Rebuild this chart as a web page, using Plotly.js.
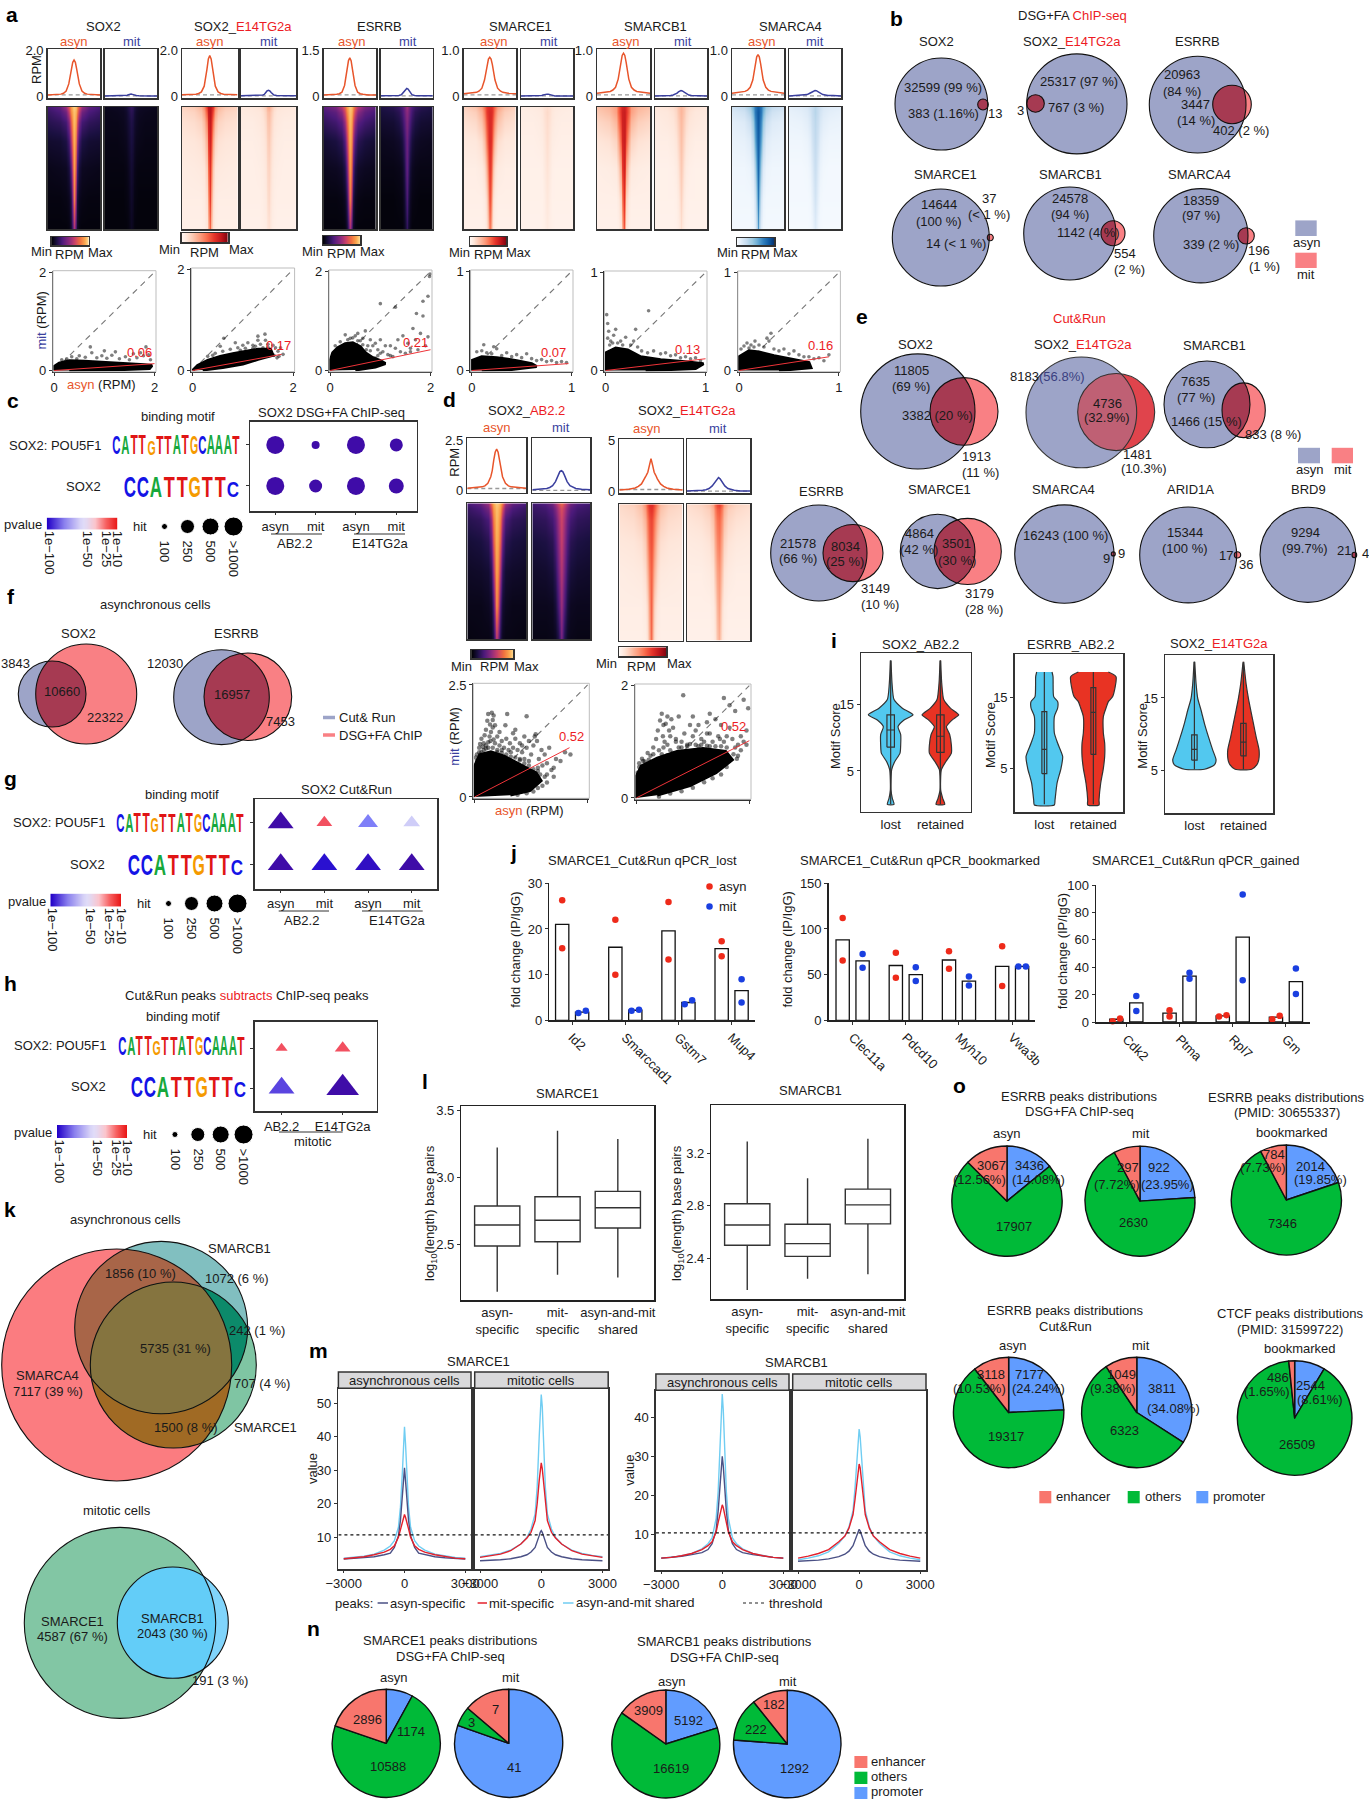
<!DOCTYPE html>
<html><head><meta charset="utf-8">
<script src="https://cdn.plot.ly/plotly-3.0.1.min.js"></script>
<style>html,body{margin:0;padding:0;background:#fff}</style></head>
<body><div id="chart"></div>
<script>
// ---------- DATA ----------
const profileOffsets=[0,50,100,150,200,300,400,500,700,1000];
const sox2Asyn=[1.6,1.5,1.2,.85,.55,.24,.14,.1,.08,.06], sox2Mit=[.1,.09,.07,.05,.04,.03,.02,.02,.02,.02];
const e14Asyn=[1.8,1.65,1.2,.75,.45,.2,.13,.1,.08,.07], e14Mit=[.27,.24,.17,.09,.06,.04,.03,.03,.03,.03];
const esrrbAsyn=[1.27,1.18,.9,.6,.36,.14,.09,.07,.05,.05], esrrbMit=[.26,.24,.18,.11,.06,.03,.02,.02,.02,.02];
const smarce1Asyn=[.86,.82,.7,.52,.36,.18,.12,.09,.07,.06], smarce1Mit=[.05,.05,.04,.03,.02,.01,.01,.01,.01,.01];
const smarcb1Asyn=[.95,.9,.75,.56,.38,.2,.14,.11,.09,.07], smarcb1Mit=[.13,.12,.1,.07,.05,.03,.02,.02,.01,.01];
const smarca4Asyn=[.92,.87,.72,.52,.36,.2,.14,.11,.09,.07], smarca4Mit=[.13,.125,.11,.09,.07,.04,.03,.02,.02,.01];
const dAbAsyn=[2.06,1.9,1.5,1,.7,.38,.25,.2,.16,.13], dAbMit=[1,.95,.8,.62,.46,.26,.17,.12,.08,.06];
const dE14Asyn=[3.24,2.6,1.9,1.6,1.25,.75,.5,.35,.22,.16], dE14Mit=[1.38,1.25,1,.75,.55,.3,.18,.12,.06,.04];

// heatmap signal: rows top->bottom, columns centre->edge
const rowFrac=[0,.04,.12,.28,.5,.75,1], colFrac=[0,.05,.11,.19,.3,.55,1];
const hSox2A=[[.95,.93,.85,.68,.48,.33,.26],[.93,.9,.8,.58,.38,.28,.22],[.92,.87,.68,.42,.26,.2,.17],[.9,.8,.52,.25,.14,.1,.09],[.88,.68,.3,.12,.06,.05,.04],[.82,.5,.14,.05,.03,.02,.02],[.55,.3,.08,.02,.01,.01,.01]];
const hSox2M=[[.2,.18,.14,.1,.07,.06,.05],[.18,.16,.12,.08,.06,.05,.04],[.15,.13,.1,.07,.05,.04,.04],[.13,.11,.08,.05,.04,.03,.03],[.1,.08,.05,.03,.02,.02,.02],[.08,.06,.03,.02,.01,.01,.01],[.06,.04,.02,.01,.01,.01,.01]];
const hE14A=[[.85,.82,.7,.45,.3,.22,.18],[.85,.8,.62,.38,.25,.18,.15],[.82,.75,.5,.28,.18,.14,.12],[.78,.68,.35,.18,.12,.1,.09],[.72,.55,.22,.1,.08,.07,.06],[.68,.42,.14,.07,.05,.05,.05],[.55,.3,.1,.05,.04,.04,.04]];
const hE14M=[[.35,.3,.22,.15,.11,.09,.08],[.28,.25,.18,.12,.09,.08,.07],[.25,.22,.15,.1,.08,.06,.06],[.22,.18,.12,.08,.06,.05,.05],[.18,.15,.09,.06,.05,.04,.04],[.16,.12,.07,.05,.04,.04,.04],[.12,.09,.05,.04,.03,.03,.03]];
const hEsA=[[.95,.92,.85,.7,.55,.4,.32],[.93,.9,.8,.62,.45,.33,.27],[.92,.87,.7,.48,.32,.25,.2],[.9,.82,.55,.3,.18,.13,.1],[.88,.72,.35,.15,.08,.06,.05],[.82,.55,.18,.06,.03,.02,.02],[.55,.3,.08,.02,.01,.01,.01]];
const hEsM=[[.5,.45,.35,.28,.22,.17,.14],[.45,.42,.33,.25,.18,.14,.12],[.42,.38,.28,.2,.14,.1,.09],[.38,.32,.2,.12,.08,.06,.05],[.35,.28,.12,.06,.04,.03,.03],[.3,.2,.07,.03,.02,.01,.01],[.22,.12,.04,.01,.01,.01,.01]];
const hE1A=[[.72,.72,.68,.55,.38,.25,.18],[.75,.73,.68,.5,.32,.2,.15],[.75,.72,.62,.42,.25,.15,.12],[.75,.7,.52,.28,.14,.09,.08],[.72,.6,.32,.14,.07,.05,.05],[.68,.45,.16,.07,.04,.04,.04],[.55,.3,.1,.04,.03,.03,.03]];
const hE1M=[[.14,.13,.12,.1,.08,.07,.06],[.15,.14,.12,.09,.07,.06,.05],[.14,.13,.11,.08,.06,.05,.05],[.13,.12,.09,.06,.05,.04,.04],[.11,.1,.07,.04,.03,.03,.03],[.09,.08,.05,.03,.03,.03,.03],[.07,.06,.04,.03,.02,.02,.02]];
const hB1A=[[.78,.76,.72,.55,.4,.3,.25],[.8,.78,.72,.55,.38,.27,.22],[.8,.78,.68,.48,.3,.2,.16],[.8,.76,.6,.33,.18,.12,.1],[.78,.68,.38,.16,.08,.06,.05],[.72,.5,.18,.07,.04,.04,.04],[.6,.32,.1,.04,.03,.03,.03]];
const hB1M=[[.3,.28,.24,.18,.14,.11,.09],[.3,.28,.23,.16,.12,.09,.08],[.28,.26,.2,.14,.1,.08,.06],[.26,.23,.16,.1,.07,.05,.05],[.22,.19,.11,.06,.04,.03,.03],[.18,.14,.07,.04,.03,.03,.03],[.13,.09,.05,.03,.02,.02,.02]];
const hA4A=[[.82,.8,.72,.55,.38,.26,.2],[.85,.82,.72,.5,.32,.2,.15],[.85,.8,.65,.4,.22,.13,.1],[.82,.76,.55,.28,.12,.08,.07],[.8,.65,.35,.13,.06,.04,.04],[.72,.5,.18,.06,.03,.03,.03],[.6,.32,.1,.03,.02,.02,.02]];
const hA4M=[[.3,.28,.24,.2,.15,.12,.1],[.3,.28,.24,.18,.13,.1,.08],[.28,.26,.22,.15,.1,.07,.06],[.26,.24,.18,.1,.06,.04,.04],[.22,.2,.12,.06,.03,.02,.02],[.18,.15,.08,.03,.02,.02,.02],[.12,.09,.04,.02,.01,.01,.01]];
const hDAbA=[[.95,.93,.88,.75,.5,.35,.28],[.93,.9,.85,.65,.4,.28,.22],[.92,.88,.78,.5,.28,.2,.17],[.9,.85,.68,.35,.18,.13,.11],[.88,.78,.5,.2,.1,.08,.07],[.85,.65,.28,.1,.06,.04,.04],[.6,.4,.14,.05,.03,.03,.02]];
const hDAbM=[[.72,.7,.62,.5,.38,.3,.25],[.65,.62,.55,.42,.32,.25,.22],[.62,.58,.5,.35,.26,.2,.18],[.6,.55,.45,.28,.18,.14,.12],[.55,.5,.38,.2,.12,.09,.08],[.5,.42,.28,.12,.06,.05,.05],[.42,.3,.15,.06,.04,.03,.03]];
const hDE14A=[[.72,.72,.62,.45,.28,.2,.16],[.7,.68,.58,.4,.25,.17,.14],[.65,.62,.5,.32,.2,.14,.12],[.62,.58,.42,.22,.13,.1,.09],[.58,.5,.3,.14,.08,.07,.06],[.6,.42,.17,.08,.05,.05,.05],[.58,.35,.12,.05,.04,.04,.04]];
const hDE14M=[[.68,.65,.55,.38,.25,.18,.14],[.6,.58,.48,.32,.2,.15,.12],[.55,.52,.42,.26,.16,.12,.1],[.5,.46,.34,.18,.11,.08,.07],[.42,.38,.24,.11,.07,.05,.05],[.38,.3,.14,.07,.04,.04,.04],[.32,.24,.1,.05,.03,.03,.03]];

// asyn vs mit scatter: dense cloud outline + individually visible points
const cSox2=[[0,0],[0,.08],[.1,.15],[.3,.2],[.6,.19],[1,.17],[1.4,.14],[1.8,.12],[1.95,.1],[1.9,.04],[1.4,.02],[.8,.01],[.3,0]];
const pSox2=[[.35,.28],[.5,.3],[.62,.27],[.75,.36],[.85,.26],[.95,.3],[1.05,.25],[1.15,.31],[1.22,.38],[1.3,.24],[1.42,.28],[1.5,.22],[1.58,.34],[1.65,.26],[1.72,.36],[1.78,.3],[1.83,.48],[1.88,.32],[1.92,.22],[.25,.24],[.72,.48],[1,.4],[.15,.22],[.45,.24]];
const cE14=[[0,0],[.1,.1],[.3,.2],[.55,.28],[.8,.33],[1.07,.38],[1.3,.42],[1.55,.42],[1.6,.3],[1.3,.22],[1,.13],[.6,.06],[.2,.01]];
const pE14=[[.45,.34],[.6,.38],[.4,.3],[.75,.42],[.9,.45],[1,.5],[1.1,.55],[1.2,.5],[1.3,.6],[1.35,.52],[1.45,.6],[1.5,.52],[1.6,.5],[1.65,.45],[1.7,.38],[1.75,.45],[1.8,.32],[1.72,.28],[.62,.64],[.55,.48],[1.5,.46],[.3,.28],[.85,.55],[1.05,.44],[1.25,.48],[1.62,.3],[1.68,.25],[1.4,.45],[1.2,.44],[.95,.4],[1.44,.72],[1.3,.68]];
const cEs=[[0,0],[0,.2],[.05,.36],[.15,.46],[.3,.54],[.45,.56],[.6,.48],[.7,.36],[.85,.26],[1,.2],[1.1,.14],[.9,.07],[.5,.01]];
const pEs=[[.3,.72],[.5,.7],[.55,.75],[.65,.65],[.7,.8],[.8,.62],[.85,.5],[.9,.55],[.95,.42],[1,.62],[1.05,.38],[1.1,.5],[1.15,.32],[1.2,.5],[1.25,.28],[1.3,.45],[1.35,.62],[1.4,.38],[1.45,.7],[1.5,.35],[1.55,.55],[1.6,.45],[1.65,.85],[1.7,.62],[1.75,.42],[1.8,.75],[1.85,1.1],[1.9,.5],[1.95,.68],[1.98,1.9],[1.85,1.4],[1.72,1.15],[1.6,.38],[1,1.35],[1.3,1.28],[.9,.25],[.72,.42],[1.95,1.5],[1.99,1.95],[1.2,.3],[.4,.65],[.6,.6],[1,.35],[.2,.58],[.1,.5],[.75,.5],[.8,.4],[.95,.3],[.65,.52],[.35,.62],[.45,.66],[.55,.6]];
const cE1=[[0,0],[0,.1],[.1,.14],[.25,.13],[.45,.1],[.6,.07],[.65,.04],[.4,.01],[.1,0]];
const pE1=[[.05,.19],[.1,.2],[.15,.18],[.2,.17],[.25,.22],[.3,.15],[.35,.18],[.4,.14],[.45,.16],[.5,.13],[.55,.17],[.6,.12],[.65,.1],[.7,.11],[.75,.09],[.8,.1],[.85,.08],[.9,.09],[.95,.08],[.12,.26],[.22,.24]];
const cB1=[[0,0],[0,.18],[.1,.23],[.22,.21],[.35,.14],[.55,.11],[.8,.09],[.98,.07],[.9,.02],[.4,0]];
const pB1=[[.01,.57],[.02,.48],[.03,.4],[.05,.3],[.08,.36],[.12,.28],[.15,.3],[.2,.34],[.25,.26],[.28,.3],[.32,.24],[.36,.2],[.42,.18],[.48,.2],[.55,.17],[.6,.18],[.65,.15],[.7,.16],[.75,.13],[.8,.14],[.85,.12],[.9,.13],[.95,.1],[.04,.26],[.1,.42],[.3,.42],[.43,.61],[.02,.33],[.17,.26],[.07,.28]];
const cA4=[[0,0],[0,.14],[.1,.2],[.2,.19],[.35,.15],[.55,.11],[.7,.08],[.72,.03],[.4,0]];
const pA4=[[.02,.22],[.05,.25],[.08,.28],[.12,.26],[.16,.3],[.2,.26],[.25,.24],[.3,.3],[.32,.38],[.35,.22],[.4,.2],[.45,.22],[.5,.17],[.55,.2],[.6,.16],[.65,.14],[.7,.14],[.75,.12],[.8,.13],[.85,.1],[.9,.16],[.28,.33],[.15,.24],[.1,.23]];
const cDAb=[[0,0],[0,.69],[.11,.94],[.36,1.01],[.65,.91],[1,.72],[1.36,.54],[1.47,.36],[1.22,.14],[.79,.04]];
const pDAb=[[.1,1.1],[.15,1.3],[.2,1.2],[.25,1.5],[.28,1.7],[.3,1.85],[.33,1.35],[.36,1.45],[.38,1.88],[.4,1.55],[.42,1.82],[.35,1.25],[.45,1.2],[.5,1.35],[.55,1.15],[.6,1.25],[.65,1.1],[.7,1.3],[.72,1.85],[.78,1.2],[.85,1.1],[.9,1.3],[.95,1.05],[1,1.2],[1.05,1],[1.1,1.35],[1.15,1.1],[1.2,1.25],[1.25,.95],[1.3,1.15],[1.33,1.35],[1.38,1.25],[1.42,.85],[1.48,1.05],[1.55,.95],[1.6,.75],[1.65,1.1],[1.7,.6],[1.75,.65],[.85,1.42],[1.15,1.8],[1.35,1.4],[.2,1.05],[.1,1],[.3,1.1],[.5,1.05],[.8,1],[1,.85],[1.5,.7],[1.8,.85],[1.9,.8],[2,1],[2.12,.95],[1.6,.5],[1.75,.45],[.55,1.45],[.45,1.6],[.6,1.05],[.25,1.15],[1.2,.8],[1.4,.65],[1.1,.85],
 [.05,.95],[.15,1],[.25,1.08],[.4,1.1],[.5,1],[.6,.98],[.7,.95],[.8,.9],[.9,.88],[1,.82],[1.1,.75],[1.2,.7],[1.3,.62],[1.4,.58],[1.45,.5],[1.55,.45],[1.6,.32],[1.5,.25],[1.4,.2],[1.3,.12],[1.15,.08],[.95,.05],[.05,.8],[.02,.88],[.18,1.12],[.3,1.22],[.42,1.28],[.22,1.38],[.12,1.18],[.34,1.62],[.4,1.72],[.68,1.6],[.9,1.5],[1.05,1.15],[.75,1.05]];
const cDE14=[[0,0],[0,.39],[.09,.57],[.37,.71],[.72,.83],[1.18,.88],[1.58,.83],[1.7,.68],[1.41,.45],[.95,.22],[.37,.05]];
const pDE14=[[.1,.7],[.2,.8],[.3,.9],[.38,1.2],[.42,1.38],[.45,1.5],[.48,1.3],[.5,1],[.55,.95],[.6,1.1],[.65,1.25],[.7,1.05],[.55,1.45],[.75,1.45],[.8,1],[.85,1.15],[.9,.95],[.95,1.3],[1,1.1],[1.05,.95],[1.1,1.3],[1.15,1.05],[1.2,1],[1.25,1.35],[1.3,1.15],[1.35,1],[1.4,1.4],[1.45,1.1],[1.5,1.3],[1.55,1],[1.6,1.1],[1.65,1.25],[1.7,1.05],[1.75,.9],[1.8,.95],[1.85,.85],[1.9,1],[1.95,1.2],[1.98,1.6],[1.9,1.75],[1.55,1.78],[1.65,1.65],[.83,1.83],[1.3,1.5],[1.75,1.55],[1.4,.7],[1.6,.7],[1.8,.75],[.25,.75],[.4,.85],[.6,.85],[.75,.9],[.9,.92],[1.1,.92],[1.3,.92],[1.5,.92],[.15,.65],[.05,.55],[1.95,.95],[.35,1.05],[.62,1.4],[1,1.45],
 [.02,.45],[.05,.62],[.12,.66],[.22,.68],[.3,.78],[.45,.78],[.55,.76],[.65,.8],[.8,.9],[.95,.96],[1.15,.95],[1.25,.93],[1.4,.92],[1.6,.9],[1.72,.78],[1.78,.7],[1.6,.55],[1.5,.42],[1.35,.35],[1.2,.28],[1,.18],[.8,.12],[.6,.08],[.4,.02],[.48,.9],[.7,1],[.58,1.2],[.47,1.1],[.52,1.32],[1.05,1.2],[1.25,1.15],[1.48,1.05],[1.85,1.1]];

// panel c/g/h: motif enrichment (exponent of the p value, hit count)
const motifNames=['SOX2: POU5F1','SOX2'];
const logoLong='CATTGTTATGCAAAT', logoShort='CCATTGTTC';
const logoLongInfo=[.95,.95,1,1,.72,.95,.95,1,1,.95,.95,1,1,1,.95], logoShortInfo=[1,1,1,1,1,1,1,1,.72];
const cExp=[[100,100,100,100],[100,100,100,100]], cHit=[[1000,100,1000,250],[1000,250,1000,500]];
const gExp=[[100,10,45,35],[100,85,90,100]], gHit=[[1000,250,500,300],[1000,1000,1000,1000]];
const hExp=[[10,10],[60,100]], hHit=[[100,250],[1000,1800]];
const hitLevels=[100,250,500,1000];

// panel j
const jLostGenes=['Id2','Smarccad1','Gstm7','Mup4'], jBookGenes=['Clec11a','Pdcd10','Myh10','Vwa3b'], jGainGenes=['Cdk2','Ptma','Rpl7','Gm'];
const jLostAsynBar=[21,16,19.6,15.7], jLostMitBar=[1.8,2.2,3.9,6.5];
const jLostAsynDots=[[26.3,15.8],[22,10],[25.9,13.3],[17.3,14]], jLostMitDots=[[1.6,2.1],[2.1,2.3],[3.5,4.4],[9,3.9]];
const jBookAsynBar=[88,60,66,59], jBookMitBar=[65,50,43,59];
const jBookAsynDots=[[112,65.5],[74,46.5],[75.5,56.5],[81,37.5]], jBookMitDots=[[72.5,57.5],[58,43],[48,38],[59,59]];
const jGainAsynBar=[2,6.5,4.5,3.5], jGainMitBar=[14,33.5,62,29.5];
const jGainAsynDots=[[.5,2.5],[4,8.5],[4,5],[2,4.5]], jGainMitDots=[[8,19],[31.5,36],[30.5,93],[20.5,39]];

// panel i: violin half widths against motif score
const v1Score=[21.7,18.3,15.8,14.5,13.5,12.7,11.7,10.5,8.9,7.7,6.4,5.2,2.1,.86,-.05];
const v1Lost=[1,4,10,35,67,40,22,30,30,28,12,3,1,5,10], v1Ret=[1,4,10,30,55,35,18,28,33,33,16,3,1,7,13];
const v2Score=[18.55,17.9,15.1,14.4,13.5,12.3,10,8.55,6.7,5.05,2.95,.6,-.1];
const v2Lost=[23,26,28,40,40,30,30,40,55,50,38,32,30], v2Ret=[45,68,58,45,38,30,30,34,34,30,22,17,17];
const v3Score=[20,17,14.95,13.3,11.5,9.65,7.8,6.45,5.75,5.15];
const v3Lost=[1,5,10,20,30,42,55,65,60,30], v3Ret=[1,8,15,22,30,38,47,46,40,25];
const iBox1={q1:[8.6,7.8],med:[11.2,10.25],q3:[13.5,13.5],lo:[0,0],hi:[21.7,21.7]};
const iBox2={q1:[4.3,7],med:[7.7,12.9],q3:[13,16.35],lo:[0,0],hi:[18.55,18.55]};
const iBox3={q1:[6.4,7],med:[7.9,8.9],q3:[9.9,11.5],lo:[5.15,5.15],hi:[20,19.8]};

// panel l
const lCats=['asyn-<br>specific','mit-<br>specific','asyn-and-mit<br>shared'];
const lE1={q1:[2.485,2.517,2.619],med:[2.642,2.677,2.771],q3:[2.784,2.853,2.893],lo:[2.144,2.27,2.25],hi:[3.22,3.346,3.284]};
const lB1={q1:[2.499,2.415,2.662],med:[2.654,2.512,2.807],q3:[2.816,2.659,2.927],lo:[2.159,2.245,2.279],hi:[3.29,3.01,3.31]};

// panel m: half-profiles from -3000 to the summit
const mX=[-3000,-2500,-2000,-1500,-1000,-700,-500,-300,-200,-100,-50,0];
const mE1AsynA=[3.5,3.7,3.9,4.2,4.8,5.3,7,10.5,15,22,27,30.7], mE1MitA=[3.6,3.8,4.2,4.8,5.6,6.4,7.5,10,12.5,15,16,16.8], mE1ShA=[3.8,4,4.4,5,6.2,7.4,9,13,19,30,38,43];
const mE1AsynM=[3,3.1,3.3,3.6,4.2,4.8,5.6,7,8.5,10.5,11.5,12], mE1MitM=[4,4.4,5,6,8,9.8,11.5,15,20,27,30.5,32.2], mE1ShM=[4.2,4.6,5.2,6.2,8,10,12.5,17,25,40,49,52.6];
const mB1AsynA=[3.8,4,4.3,4.7,5.2,6,7.5,11,16,23,27.5,30], mB1MitA=[3.8,4,4.4,5,6,7,8,10.5,13,15.5,16.8,17.5], mB1ShA=[3.8,4,4.4,5,6.2,7.5,9,14,21,34,42,46];
const mB1AsynM=[3,3.1,3.3,3.6,4.2,4.8,5.6,7,8.5,10,10.8,11.2], mB1MitM=[3.8,4.3,5,6,8,9.5,11.5,15,19,24.5,27,28], mB1ShM=[3.4,3.8,4.4,5.4,7.6,9.5,11.8,16,22,31,35,37];

// pies: promoter, others, enhancer
const pieLabels=['promoter','others','enhancer'];
const nE1Asyn=[1174,10588,2896], nE1Mit=[41,3,7], nB1Asyn=[5192,16619,3909], nB1Mit=[1292,222,182];
const oChipAsyn=[3436,17907,3067], oChipMit=[922,2630,297], oPmidEs=[2014,7346,784];
const oCutAsyn=[7177,19317,3118], oCutMit=[3811,6323,1049], oPmidCtcf=[2544,26509,486];

// ---------- FRAME ----------
const W=1369,H=1800,FONT='"Liberation Sans",Arial,sans-serif';
const ORANGE='#e8552b',NAVY='#3a3f9e',RED='#ed1c24',LINE='#333';
const data=[];
const layout={width:W,height:H,autosize:false,margin:{l:0,r:0,t:0,b:0},showlegend:false,paper_bgcolor:'#fff',plot_bgcolor:'rgba(0,0,0,0)',
  font:{family:FONT,size:13,color:'#1a1a1a'},annotations:[],shapes:[],boxmode:'overlay',barmode:'overlay',hovermode:false};
let axN=0;
function ax(x0,x1,y0,y1,xo,yo){axN++;const s=axN===1?'':axN;
  const base={showgrid:false,zeroline:false,fixedrange:true,showticklabels:false,ticks:''};
  layout['xaxis'+s]=Object.assign({},base,{domain:[x0/W,x1/W],anchor:'y'+s},xo||{});
  layout['yaxis'+s]=Object.assign({},base,{domain:[1-y1/H,1-y0/H],anchor:'x'+s},yo||{});
  return {xaxis:'x'+s,yaxis:'y'+s};}
const boxed={showline:true,mirror:true,linecolor:LINE,linewidth:1.5};
const plain={showline:true,linecolor:LINE,linewidth:1.2,ticks:'outside',ticklen:3,tickcolor:LINE,showticklabels:true,tickfont:{size:13}};
function T(x,y,text,o){layout.annotations.push(Object.assign({xref:'paper',yref:'paper',x:x/W,y:1-y/H,text:text,showarrow:false,xanchor:'center',yanchor:'middle',borderpad:0,borderwidth:0},o||{}));}
function TL(list,o){list.forEach(l=>T(l[0],l[1],l[2],o));}
function rect(x0,y0,x1,y1,fill,line,w){layout.shapes.push({type:'rect',xref:'paper',yref:'paper',x0:x0/W,x1:x1/W,y0:1-y0/H,y1:1-y1/H,fillcolor:fill||'rgba(0,0,0,0)',line:{color:line||'rgba(0,0,0,0)',width:w===undefined?1:w}});}
function seg(x0,y0,x1,y1,color,w,dash){layout.shapes.push({type:'line',xref:'paper',yref:'paper',x0:x0/W,x1:x1/W,y0:1-y0/H,y1:1-y1/H,line:{color:color||'#222',width:w||1,dash:dash||'solid'}});}
const letter=(x,y,t)=>T(x,y,'<b>'+t+'</b>',{font:{size:21,color:'#000'}});
const mirrorNeg=a=>[...a.slice(1).reverse().map(v=>-v),...a];
const mirrorVal=a=>[...a.slice(1).reverse(),...a];
const red=s=>'<span style="color:'+RED+'">'+s+'</span>';

const MAGMA=[[0,'#020208'],[.13,'#1a1040'],[.28,'#4b1a7a'],[.45,'#8b2a7e'],[.6,'#c9406a'],[.75,'#f0703f'],[.88,'#fba84f'],[1,'#fde5a0']];
const REDS=[[0,'#fff5f0'],[.1,'#fee6da'],[.25,'#fcc3ab'],[.4,'#fc9c7d'],[.55,'#f96a4a'],[.7,'#e5332a'],[.85,'#bb141a'],[1,'#7a0510']];
const BLUES=[[0,'#f7fbff'],[.1,'#e3eef9'],[.25,'#c6dcef'],[.4,'#9dcae1'],[.55,'#62a8d3'],[.7,'#2f7ebc'],[.85,'#0e59a2'],[1,'#08306b']];
const PV=[[0,'#2200c8'],[.3,'#8a80ee'],[.5,'#e0dcf8'],[.6,'#fbc5cc'],[.8,'#f76060'],[1,'#e81010']];

function profile(x0,x1,y0,y1,ymax,vals,color,dashY,label){
  const a=ax(x0,x1,y0,y1,Object.assign({},boxed,{range:[-1000,1000]}),
    Object.assign({},boxed,{range:[-.035*ymax,1.035*ymax]},label?{showticklabels:true,tickvals:[0,ymax],ticktext:['0',label],tickfont:{size:13},ticklen:0,ticks:''}:{}));
  data.push(Object.assign({type:'scatter',mode:'lines',x:[-1000,1000],y:[dashY,dashY],line:{color:'#999',width:1.3,dash:'4px,3px'},hoverinfo:'skip'},a));
  data.push(Object.assign({type:'scatter',mode:'lines',x:mirrorNeg(profileOffsets),y:mirrorVal(vals),line:{color:color,width:1.5},hoverinfo:'skip'},a));
}
function heat(x0,x1,y0,y1,half,cs){
  const a=ax(x0,x1,y0,y1,Object.assign({},boxed,{range:[-1,1]}),Object.assign({},boxed,{range:[1,0]}));
  data.push(Object.assign({type:'heatmap',x:mirrorNeg(colFrac),y:rowFrac,z:half.map(mirrorVal),colorscale:cs,zmin:0,zmax:1,zsmooth:'best',showscale:false,hoverinfo:'skip'},a));
}
function cbar(x0,x1,y0,y1,cs){
  const a=ax(x0,x1,y0,y1,Object.assign({},boxed,{range:[0,1]}),Object.assign({},boxed,{range:[0,1]}));
  const r=[0,.17,.33,.5,.67,.83,1];
  data.push(Object.assign({type:'heatmap',x:r,y:[0,1],z:[r,r],colorscale:cs,zmin:0,zmax:1,zsmooth:'best',showscale:false,hoverinfo:'skip'},a));
}
function scat(x0,x1,y0,y1,xmax,ymax,cloud,pts,fitEnd,o){o=o||{};
  const a=ax(x0,x1,y0,y1,Object.assign({},plain,{range:[-.012*xmax,1.015*xmax],tickvals:[0,xmax],showticklabels:o.xlab!==false}),
    Object.assign({},plain,{range:[-.012*ymax,1.015*ymax],tickvals:[0,ymax]}));
  rect(x0,y0,x1,y1,null,'#bdbdbd',1);
  data.push(Object.assign({type:'scatter',mode:'lines',x:[0,xmax],y:[0,ymax],line:{color:'#777',width:1.1,dash:'6px,5px'},hoverinfo:'skip'},a));
  data.push(Object.assign({type:'scatter',mode:'lines',x:cloud.map(p=>p[0]),y:cloud.map(p=>p[1]),fill:'toself',fillcolor:'#000',line:{color:'#000',width:3},hoverinfo:'skip'},a));
  data.push(Object.assign({type:'scatter',mode:'markers',x:pts.map(p=>p[0]),y:pts.map(p=>p[1]),marker:{color:'rgba(0,0,0,.5)',size:o.ms||3.6},hoverinfo:'skip'},a));
  data.push(Object.assign({type:'scatter',mode:'lines',x:[0,fitEnd[0]],y:[0,fitEnd[1]],line:{color:'#ee3338',width:1},hoverinfo:'skip'},a));
}

// ---------- PANEL a ----------
letter(12,15,'a');
TL([[103,26,'SOX2'],[243,26,'SOX2_'+red('E14TG2a')],[379,26,'ESRRB'],[520.6,26,'SMARCE1'],[655,26,'SMARCB1'],[791,26,'SMARCA4']]);
TL([[73.5,41,'asyn'],[209.5,41,'asyn'],[351,41,'asyn'],[493,41,'asyn'],[625,41,'asyn'],[761,41,'asyn']],{font:{color:ORANGE}});
TL([[132,41,'mit'],[268.8,41,'mit'],[408,41,'mit'],[548.5,41,'mit'],[683,41,'mit'],[815,41,'mit']],{font:{color:NAVY}});
T(37,70,'RPM',{textangle:-90});
[[47.7,100.4,104.8,157.4,2,'2.0',sox2Asyn,sox2Mit,hSox2A,hSox2M,MAGMA],
 [182,237.5,240.8,296,2,'2.0',e14Asyn,e14Mit,hE14A,hE14M,REDS],
 [323.6,376,380.7,432.8,1.5,'1.5',esrrbAsyn,esrrbMit,hEsA,hEsM,MAGMA],
 [463.5,516,521,573,1,'1.0',smarce1Asyn,smarce1Mit,hE1A,hE1M,REDS],
 [597,650,655,707,1,'1.0',smarcb1Asyn,smarcb1Mit,hB1A,hB1M,REDS],
 [732,784,789,841,1,'1.0',smarca4Asyn,smarca4Mit,hA4A,hA4M,BLUES]].forEach(p=>{
  profile(p[0],p[1],49.3,98,p[4],p[6],ORANGE,p[4]*.035,p[5]);
  profile(p[2],p[3],49.3,98,p[4],p[7],NAVY,p[4]*.01);
  heat(p[0],p[1],107,229,p[8],p[10]);
  heat(p[2],p[3],107,229,p[9],p[10]);
});
cbar(51.6,88.9,237,245,MAGMA);cbar(181.6,228,233,242,REDS);cbar(323,360,236,244,MAGMA);cbar(470,506,237,245,REDS);cbar(737,774,238,245,BLUES);
TL([[41,251.7,'Min'],[69.7,255,'RPM'],[100.4,252,'Max'],[169,250,'Min'],[204,253,'RPM'],[241.4,250,'Max'],[312.7,251,'Min'],[341,253.7,'RPM'],[372,251,'Max'],[459,252,'Min'],[488,255,'RPM'],[518,252,'Max'],[727,252,'Min'],[756,255,'RPM'],[785.5,252,'Max']]);
scat(53,156,270.7,371.7,2,2,cSox2,pSox2,[2,.14]);
scat(191.4,294.6,268,371.7,2,2,cE14,pE14,[1.77,.32]);
scat(329,432,270,371.7,2,2,cEs,pEs,[2,.42]);
scat(470.6,573,270,371.7,1,1,cE1,pE1,[.97,.07]);
scat(604.5,707,271,371.7,1,1,cB1,pB1,[1,.12]);
scat(737.8,840.4,271,371.7,1,1,cA4,pA4,[.9,.14]);
TL([[139.9,352,'0.06'],[278,345,'0.17'],[415.8,342.7,'0.21'],[553,352.3,'0.07'],[687.3,349.3,'0.13'],[820,346,'0.16']],{font:{color:RED}});
T(40.6,320,'<span style="color:'+NAVY+'">mit</span> (RPM)',{textangle:-90});
T(101,384,'<span style="color:'+ORANGE+'">asyn</span> (RPM)');

// ---------- VENN helper ----------
function ellPoly(e){const p=[],cx=(e[0]+e[1])/2,cy=(e[2]+e[3])/2,a=(e[1]-e[0])/2,b=(e[3]-e[2])/2;
  for(let i=0;i<96;i++){const t=i/96*2*Math.PI;p.push([cx+a*Math.cos(t),cy+b*Math.sin(t)]);}return p;}
function clipPoly(sub,clip){let out=sub;const n=clip.length;
  for(let i=0;i<n;i++){const a=clip[i],b=clip[(i+1)%n],inp=out;out=[];
    const side=q=>(b[0]-a[0])*(q[1]-a[1])-(b[1]-a[1])*(q[0]-a[0]);
    for(let j=0;j<inp.length;j++){const p=inp[j],q=inp[(j+1)%inp.length],sp=side(p),sq=side(q);
      if(sp>=0)out.push(p);
      if(sp*sq<0){const t=sp/(sp-sq);out.push([p[0]+t*(q[0]-p[0]),p[1]+t*(q[1]-p[1])]);}}
    if(!out.length)break;}
  return out;}
function polyShape(poly,fill){if(poly.length<3)return;
  layout.shapes.push({type:'path',xref:'paper',yref:'paper',path:'M'+poly.map(p=>(p[0]/W).toFixed(6)+' '+(1-p[1]/H).toFixed(6)).join('L')+'Z',fillcolor:fill,line:{width:0}});}
function ellShape(e,fill,lineC,w){layout.shapes.push({type:'circle',xref:'paper',yref:'paper',x0:e[0]/W,x1:e[1]/W,y0:1-e[2]/H,y1:1-e[3]/H,fillcolor:fill||'rgba(0,0,0,0)',line:{color:lineC||'rgba(0,0,0,0)',width:w===undefined?1.1:w}});}
function venn(ells,fills,overlaps,lineC){
  ells.forEach((e,i)=>ellShape(e,fills[i],null,0));
  (overlaps||[]).forEach(o=>{let p=ellPoly(ells[o[0][0]]);o[0].slice(1).forEach(k=>{p=clipPoly(p,ellPoly(ells[k]));});polyShape(p,o[1]);});
  ells.forEach(e=>ellShape(e,null,lineC||'#111',1.1));
}
const VA='#9da4c8',VM='#f98084',VO='#a63a52';
const v2=(a,m,oc,mc,lc)=>venn([a,m],[VA,mc||VM],[[[0,1],oc||VO]],lc);

// ---------- PANEL b ----------
letter(896.7,18,'b');
T(1072,15.5,'DSG+FA '+red('ChIP-seq'));
v2([895,987.7,58,150],[977.7,988.3,99,110]);
v2([1026.7,1127,53.9,153.9],[1026.7,1044.3,94.7,112.2]);
v2([1149.3,1246,56.3,153],[1212.7,1251.3,85.3,123.7]);
v2([892.3,989.3,189,286],[987.3,993.3,234.3,240.8]);
v2([1023.7,1116,187,280],[1101,1125,220.8,245.7]);
v2([1153.7,1248,188.6,282.9],[1238,1254.3,227.8,244]);
TL([[936.3,41,'SOX2'],[1072.3,41,'SOX2_'+red('E14TG2a')],[1197.3,41,'ESRRB'],[945.3,174.7,'SMARCE1'],[1070,174.7,'SMARCB1'],[1199,174.7,'SMARCA4'],
[942.7,87.8,'32599 (99 %)'],[943.3,113.5,'383 (1.16%)'],[995,113.5,'13'],[1079,81.6,'25317 (97 %)'],[1020.3,110.2,'3'],[1076,107.3,'767 (3 %)'],
[1182.3,75,'20963'],[1182.3,91.4,'(84 %)'],[1195.7,104.5,'3447'],[1195.7,120.8,'(14 %)'],[1241.3,130.6,'402 (2 %)'],
[939.3,204.9,'14644'],[939.3,221.2,'(100 %)'],[989,198.8,'37'],[989.3,214.7,'(&lt; 1 %)'],[956,244,'14 (&lt; 1 %)'],
[1070,198.8,'24578'],[1070,214.7,'(94 %)'],[1088.7,232.2,'1142 (4 %)'],[1124.7,253.9,'554'],[1129.7,269.8,'(2 %)'],
[1200.7,200,'18359'],[1200.7,215.9,'(97 %)'],[1210.7,244.9,'339 (2 %)'],[1259.3,250.2,'196'],[1264,266.5,'(1 %)'],
[1306,242,'asyn'],[1306,274.7,'mit']]);
rect(1295.3,220.4,1316.7,236,VA);rect(1295.3,252.7,1316.7,268,VM);

// ---------- PANEL e ----------
letter(862,316,'e');
T(1079.7,318.4,red('Cut&Run'));
v2([860.7,975,353.9,469],[930,998,377.6,445.3]);
v2([1026,1136.7,357,467.8],[1077.7,1154.7,373.5,450.6],'#bf6074','#e0444c','#333');
v2([1164,1250,361,447.8],[1222,1265.3,382.9,437.6]);
v2([770.7,867,505,601],[823,883,524.5,581.6]);
v2([900.3,975,514.3,588.6],[934,1001.3,518.4,584.5]);
v2([1014.7,1114,504.9,603.3],[1111.3,1115.3,551.9,555.9]);
v2([1139.7,1236.7,507,602.9],[1234.3,1240.7,551.8,558]);
v2([1260,1355.7,507.3,602.4],[1352,1356.7,552.2,557.6]);
TL([[915,344,'SOX2'],[1082.7,344,'SOX2_'+red('E14TG2a')],[1214.7,346,'SMARCB1'],
[821,492,'ESRRB'],[939,489.8,'SMARCE1'],[1063.3,489.8,'SMARCA4'],[1190,489.8,'ARID1A'],[1308.7,489.8,'BRD9'],
[911.3,370.2,'11805'],[911.3,386.5,'(69 %)'],[937.3,415,'3382 (20 %)'],[976,456.3,'1913'],[980.7,472.7,'(11 %)'],
[1024,376,'8183'],[1062,376,'<span style="color:#3a3f80">(56.8%)</span>'],[1107,403.3,'4736'],[1107,417.6,'(32.9%)'],[1137,454.7,'1481'],[1144.3,468.6,'(10.3%)'],
[1195.7,381.2,'7635'],[1195.7,397,'(77 %)'],[1206.7,421.2,'1466 (15 %)'],[1273,434.3,'833 (8 %)'],
[797.7,543,'21578'],[797.7,559,'(66 %)'],[845,546,'8034'],[845,562,'(25 %)'],[875,588.6,'3149'],[880,604.9,'(10 %)'],
[919.3,533,'4864'],[919.3,549.4,'(42 %)'],[956.7,544,'3501'],[956.7,560,'(30 %)'],[979.3,593,'3179'],[984,609.4,'(28 %)'],
[1065,535.5,'16243 (100 %)'],[1106,558.4,'9'],[1121,553.9,'9'],
[1185.3,532.7,'15344'],[1185.3,549,'(100 %)'],[1225.7,555,'17'],[1246.3,564.5,'36'],
[1305.3,532.2,'9294'],[1305.3,548.2,'(99.7%)'],[1344,550.6,'21'],[1365,554,'4'],
[1309.7,470,'asyn'],[1342.7,470,'mit']]);
rect(1298,447.8,1320,463.3,VA);rect(1331.7,447.8,1353,463.3,VM);

// ---------- MOTIF helpers ----------
const LOGO={A:'#16a83c',C:'#1414e6',G:'#f59a00',T:'#e01414'};
const logoGlyphs=[];
function logo(seq,info,x0,x1,yc,size){const step=(x1-x0)/seq.length;
  [...seq].forEach((c,i)=>{const s=size*info[i];
    logoGlyphs.push({i:layout.annotations.length,w:step*(c==='T'?.86:.96)});
    T(x0+step*(i+.5),yc+(size-s)*.36,c,{font:{size:s,color:LOGO[c],weight:'bold'}});});}
function motifRows(rowY,rightX,l1,l2){
  T(rightX,rowY[0],motifNames[0],{xanchor:'right'});T(rightX,rowY[1],motifNames[1],{xanchor:'right'});
  logo(logoLong,logoLongInfo,l1[0],l1[1],rowY[0],27);
  logo(logoShort,logoShortInfo,l2[0],l2[1],rowY[1],30);
}
function pvalHit(cb,yc,pLabelX,hitLabelX,hitRange){
  const a=ax(cb[0],cb[1],cb[2],cb[3],{range:[-103,-10],tickvals:[-100,-50,-25,-10],ticktext:['1e−100','1e−50','1e−25','1e−10'],showticklabels:true,tickangle:90,tickfont:{size:13}},{range:[0,1]});
  const r=[-103,-80,-60,-50,-40,-25,-10],g=[0,.3,.48,.52,.6,.8,1];
  data.push(Object.assign({type:'heatmap',x:r,y:[0,1],z:[g,g],colorscale:PV,zmin:0,zmax:1,zsmooth:'best',showscale:false,hoverinfo:'skip'},a));
  T(pLabelX,yc,'pvalue',{xanchor:'right'});T(hitLabelX,yc+2.5,'hit');
  const dy=yc+2.5;
  const b=ax(hitRange[0],hitRange[1],dy-13,dy+13,{range:[-.5,3.5],tickvals:[0,1,2,3],ticktext:['100','250','500','>1000'],showticklabels:true,tickangle:90,tickfont:{size:13}},{range:[0,1]});
  const ds={100:6,250:14,500:17,1000:19};
  data.push(Object.assign({type:'scatter',mode:'markers',x:[0,1,2,3],y:[.5,.5,.5,.5],marker:{color:'#000',opacity:1,size:hitLevels.map(h=>ds[h])},hoverinfo:'skip',cliponaxis:false},b));
}
const EXPSCALE=[[0,'#f25060'],[.278,'#cfcdf8'],[.389,'#7f7ff8'],[.556,'#5a44e0'],[.833,'#2a10d0'],[1,'#3f0ca8']];
function enrich(box,xr,yr,expM,hitM,symbol,sizeOf,xticks,title,tx,ty){
  const xs=[],ys=[],cs=[],ss=[];
  expM.forEach((row,r)=>row.forEach((e,i)=>{xs.push(i);ys.push(1-r);cs.push(e);ss.push(sizeOf(hitM[r][i]));}));
  const a=ax(box[0],box[1],box[2],box[3],Object.assign({},boxed,{range:xr,tickvals:xticks.v,ticktext:xticks.t,showticklabels:true,ticks:'outside',ticklen:2,tickcolor:LINE,tickfont:{size:13}}),
    Object.assign({},boxed,{range:yr,tickvals:[0,1],ticks:'outside',ticklen:3,tickcolor:LINE}));
  data.push(Object.assign({type:'scatter',mode:'markers',x:xs,y:ys,marker:{symbol:symbol,color:cs,cmin:10,cmax:100,colorscale:EXPSCALE,size:ss,opacity:1,line:{width:0}},hoverinfo:'skip'},a));
  if(title)T(tx,ty,title);
}
const ASMIT={v:[0,1,2,3],t:['asyn','mit','asyn','mit']};
const dotSize=h=>({100:8,250:13,500:15,1000:18}[h]);
const triSize=h=>Math.sqrt(h)*.55+5;

// ---------- PANEL c ----------
letter(13,400,'c');
T(178,416.5,'binding motif');
motifRows([445,486],100.7,[112.7,240.7],[124,239]);
enrich([250,416.7,421.6,511.4],[-.627,3.506],[-.62,1.57],cExp,cHit,'circle',dotSize,ASMIT,'SOX2 DSG+FA ChIP-seq',331,412);
seg(271,534,322,534,'#333',1);seg(354,534,405,534,'#333',1);
T(294,544,'AB2.2');T(380,544,'E14TG2a');
pvalHit([46.7,117.3,517.6,529.8],524,42,140,[153,245]);

// ---------- PANEL f ----------
letter(11,596.6,'f');
T(155,604,'asynchronous cells');T(78.7,633,'SOX2');T(236.7,633,'ESRRB');
venn([[18.3,86,661,727],[35.7,136.7,644,744]],[VA,VM],[[[0,1],VO]]);
venn([[173.7,269.3,649.7,744.6],[204,291.7,653,740.5]],[VA,VM],[[[0,1],VO]]);
TL([[15,664,'3843'],[62,691.5,'10660'],[105,717,'22322'],[165,664,'12030'],[232,695,'16957'],[280,721.6,'7453']]);
seg(323,717.5,335,717.5,VA,3.5);seg(323,735,335,735,VM,3.5);
T(339,717.5,'Cut& Run',{xanchor:'left'});T(339,735,'DSG+FA ChIP',{xanchor:'left'});

// ---------- PANEL g ----------
letter(11,779,'g');
T(182,794,'binding motif');
motifRows([822.7,864],104.7,[116.7,244.3],[128,243.3]);
enrich([254.7,437.3,799,889],[-.595,3.586],[-.586,1.567],gExp,gHit,'triangle-up',triSize,ASMIT,'SOX2 Cut&Run',346,789);
seg(278.7,911,329,911,'#333',1);seg(362,911,422.7,911,'#333',1);
T(301.7,920.6,'AB2.2');T(397,920.6,'E14TG2a');
pvalHit([50.3,121,893.6,906.8],901,46.3,144,[157,249]);

// ---------- PANEL h ----------
letter(11,983,'h');
T(246.7,995.6,'Cut&Run peaks '+red('subtracts')+' ChIP-seq peaks');
T(183,1016,'binding motif');
motifRows([1045.6,1086],106,[118.3,245.7],[131,246]);
enrich([254.7,376.7,1021.6,1111.4],[-.44,1.557],[-.585,1.66],hExp,hHit,'triangle-up',triSize,{v:[0,1],t:['AB2.2','E14TG2a']});
seg(279,1132,342.7,1132,'#333',1);T(312.7,1141,'mitotic');
pvalHit([57,127.3,1125,1138.5],1132,52,150,[163.5,255]);

// ---------- PANEL d ----------
letter(450,399,'d');
T(526,411,'SOX2_'+red('AB2.2'));T(686.7,411,'SOX2_'+red('E14TG2a'));
TL([[496.7,427.7,'asyn'],[646,429,'asyn']],{font:{color:ORANGE}});TL([[561,427.7,'mit'],[718,429,'mit']],{font:{color:NAVY}});
T(455,462.7,'RPM',{textangle:-90});
profile(467.3,526,438.3,492.7,2.5,dAbAsyn,ORANGE,.12,'2.5');profile(532.3,590.3,438.3,492.7,2.5,dAbMit,NAVY,.03);
profile(619.3,682.7,439,493.3,5,dE14Asyn,ORANGE,.2,'5');profile(687,750,439,493.3,5,dE14Mit,NAVY,.03);
heat(467.3,526,503.3,639.3,hDAbA,MAGMA);heat(532.3,590.3,503.3,639.3,hDAbM,MAGMA);
heat(619.3,682.7,504.3,640.7,hDE14A,REDS);heat(687,750,504.3,640.7,hDE14M,REDS);
cbar(471.7,513.3,650,658.3,MAGMA);cbar(619.3,666,647.3,656,REDS);
TL([[461.7,666.7,'Min'],[494,666.7,'RPM'],[526,666.7,'Max'],[606.7,663.3,'Min'],[641.7,666.7,'RPM'],[679.3,663.3,'Max']]);
scat(473.3,589.3,683.3,798.3,2.5,2.5,cDAb,pDAb,[2.1,1.1],{xlab:false,ms:4.5});
scat(635,751,684,799.3,2,2,cDE14,pDE14,[2,1.02],{xlab:false,ms:4.5});
TL([[571,736,'0.52'],[733.3,726.7,'0.52']],{font:{color:RED}});
T(529.3,810.7,'<span style="color:'+ORANGE+'">asyn</span> (RPM)');
T(455,736.7,'<span style="color:'+NAVY+'">mit</span> (RPM)',{textangle:-90});

// ---------- PANEL i ----------
letter(834,640,'i');
T(920.7,644,'SOX2_AB2.2');T(1070.7,644,'ESRRB_AB2.2');T(1219,643.7,'SOX2_'+red('E14TG2a'));
T(835,736,'Motif Score',{textangle:-90});T(990,735,'Motif Score',{textangle:-90});T(1141.7,736,'Motif Score',{textangle:-90});
function violinPanel(box,xr,yr,score,lost,ret,scale,bx,bw){
  const a=ax(box[0],box[1],box[2],box[3],Object.assign({},boxed,{range:xr,tickvals:[0,1],ticktext:['lost','retained'],showticklabels:true,tickfont:{size:13}}),
    Object.assign({},boxed,{range:yr,tickvals:[5,15],showticklabels:true,ticks:'outside',ticklen:3,tickcolor:LINE,tickfont:{size:13}}));
  [[lost,0,'#52c8ef'],[ret,1,'#e83323']].forEach(v=>{
    const right=v[0].map(w=>v[1]+w/scale),left=v[0].map(w=>v[1]-w/scale).reverse();
    data.push(Object.assign({type:'scatter',mode:'lines',x:[...right,...left],y:[...score,...[...score].reverse()],fill:'toself',fillcolor:v[2],line:{color:'#333',width:1.2,shape:'spline',smoothing:.6},hoverinfo:'skip'},a));
  });
  // box glyphs have to sit over the filled violins, so they are scatter paths from the quartiles
  const xs=[],ys=[],h=bw/2;
  [0,1].forEach(c=>{xs.push(c,c,null,c-h,c+h,c+h,c-h,c-h,null,c-h,c+h,null);
    ys.push(bx.lo[c],bx.hi[c],null,bx.q1[c],bx.q1[c],bx.q3[c],bx.q3[c],bx.q1[c],null,bx.med[c],bx.med[c],null);});
  data.push(Object.assign({type:'scatter',mode:'lines',x:xs,y:ys,line:{color:'#333',width:1.2},hoverinfo:'skip'},a));
}
violinPanel([861,970.7,653.3,811.7],[-.597,1.61],[-1.16,22.8],v1Score,v1Lost,v1Ret,149,iBox1,.15);
violinPanel([1014.7,1123,654.3,812.3],[-.605,1.605],[-1.12,21.03],v2Score,v2Lost,v2Ret,147,iBox2,.1);
violinPanel([1165,1273.3,655,813.3],[-.6,1.61],[-.94,20.94],v3Score,v3Lost,v3Ret,147,iBox3,.11);

// ---------- PANEL j ----------
letter(513,852,'j');
function barPanel(box,xr,ymax,yt,genes,aBar,mBar,aDots,mDots,title,tx,ytx){
  const a=ax(box[0],box[1],box[2],box[3],Object.assign({},plain,{range:xr,tickvals:[0,1,2,3],ticktext:genes,tickangle:45,linewidth:1.5,linecolor:'#222'}),
    Object.assign({},plain,{range:[0,ymax],tickvals:yt,linewidth:1.5,linecolor:'#222'}));
  [[aBar,-.1875],[mBar,.1875]].forEach(s=>{
    data.push(Object.assign({type:'bar',x:genes.map((g,i)=>i+s[1]),y:s[0],width:.25,marker:{color:'#fff',line:{color:'#111',width:1.3}},hoverinfo:'skip'},a));
  });
  [[aDots,-.1875,'#ee2a1a'],[mDots,.1875,'#1a3fe0']].forEach(s=>{
    const xs=[],ys=[];
    s[0].forEach((d,i)=>{const close=Math.abs(d[0]-d[1])<ymax*.04;
      xs.push(i+s[1]-(close?.07:0),i+s[1]+(close?.07:0));ys.push(d[0],d[1]);});
    data.push(Object.assign({type:'scatter',mode:'markers',x:xs,y:ys,marker:{color:s[2],size:6.5},cliponaxis:false,hoverinfo:'skip'},a));
  });
  T(tx,861,title);T(ytx,(box[2]+box[3])/2-2,'fold change (IP/IgG)',{textangle:-90});
}
barPanel([549.3,755,883.3,1020.3],[-.43,3.44],30,[0,10,20,30],jLostGenes,jLostAsynBar,jLostMitBar,jLostAsynDots,jLostMitDots,'SMARCE1_Cut&Run qPCR_lost',642.5,516);
barPanel([828.7,1035,883.3,1020.3],[-.45,3.43],150,[0,50,100,150],jBookGenes,jBookAsynBar,jBookMitBar,jBookAsynDots,jBookMitDots,'SMARCE1_Cut&Run qPCR_bookmarked',920,787.7);
barPanel([1096,1310.4,885,1022],[-.57,3.46],100,[0,20,40,60,80,100],jGainGenes,jGainAsynBar,jGainMitBar,jGainAsynDots,jGainMitDots,'SMARCE1_Cut&Run qPCR_gained',1195.7,1062.7);
const jLeg=ax(702,717,880,913,{range:[0,1]},{range:[0,2]});
data.push(Object.assign({type:'scatter',mode:'markers',x:[.5,.5],y:[1.6,.4],marker:{color:['#ee2a1a','#1a3fe0'],size:6.5},hoverinfo:'skip'},jLeg));
T(719,886.7,'asyn',{xanchor:'left'});T(719,906.7,'mit',{xanchor:'left'});

// ---------- PANEL k ----------
letter(10,1209.5,'k');
T(125,1219,'asynchronous cells');
venn([[1.7,231.7,1249,1481],[74.7,247.7,1241.4,1413.7],[90.3,256.3,1282,1448]],['#fb7c80','#81bfc0','#7fc5a3'],
 [[[0,1],'#a86548'],[[0,2],'#a06a24'],[[1,2],'#0c8a6a'],[[0,1,2],'#85743f']]);
TL([[239,1248,'SMARCB1'],[237,1278,'1072 (6 %)'],[140,1273,'1856 (10 %)'],[256.7,1330.5,'242 (1 %)'],[175,1348,'5735 (31 %)'],[262,1383.4,'707 (4 %)'],
 [47.7,1375.6,'SMARCA4'],[48,1391.6,'7117 (39 %)'],[186,1427,'1500 (8 %)'],[265,1427,'SMARCE1']]);
T(117,1510.6,'mitotic cells');
venn([[24.3,215.7,1527.4,1718.4],[117.3,228.3,1567,1678.3]],['#82c6a4','#80d4fb'],[[[0,1],'#63cdf8']]);
TL([[72.7,1621,'SMARCE1'],[72.7,1636.7,'4587 (67 %)'],[172,1618,'SMARCB1'],[172,1633.6,'2043 (30 %)'],[220,1680,'191 (3 %)']]);

// ---------- PANEL l ----------
letter(425,1081,'l');
function boxPanel(box,yr,yt,b,title,tx,ty,ytx){
  const a=ax(box[0],box[1],box[2],box[3],Object.assign({},boxed,{range:[-.594,2.6],tickvals:[0,1,2],ticktext:lCats,tickangle:0,showticklabels:true,tickfont:{size:13},linecolor:'#222'}),
    Object.assign({},boxed,{range:yr,tickvals:yt,tickformat:'.1f',showticklabels:true,ticks:'outside',ticklen:3,tickcolor:LINE,tickfont:{size:13},linecolor:'#222'}));
  data.push(Object.assign({type:'box',x:[0,1,2],q1:b.q1,median:b.med,q3:b.q3,lowerfence:b.lo,upperfence:b.hi,width:.75,whiskerwidth:0,boxpoints:false,fillcolor:'#fff',line:{color:'#333',width:1.4},hoverinfo:'skip'},a));
  T(tx,ty,title);T(ytx,1213,'log<sub>10</sub>(length) base pairs',{textangle:-90});
}
boxPanel([461.4,654,1106,1300],[2.082,3.53],[2.5,3,3.5],lE1,'SMARCE1',567.6,1093,430);
boxPanel([711.4,904.1,1105,1299],[2.09,3.568],[2.4,2.8,3.2],lB1,'SMARCB1',810.4,1090.7,677);

// ---------- PANEL m ----------
letter(318,1350,'m');
function facet(box,yr,yt,showY,series,thr,strip){
  const a=ax(box[0],box[1],box[3],box[4],Object.assign({},boxed,{range:[-3262,3282],tickvals:[-3000,0,3000],ticktext:['−3000','0','3000'],tickangle:0,showticklabels:true,ticks:'outside',ticklen:2,tickcolor:LINE,tickfont:{size:13}}),
    Object.assign({},boxed,{range:yr,tickvals:yt,showticklabels:showY,ticks:showY?'outside':'',ticklen:3,tickcolor:LINE,tickfont:{size:13}}));
  rect(box[0],box[2],box[1],box[3],'#d9d9db',LINE,1.5);
  T((box[0]+box[1])/2,(box[2]+box[3])/2,strip);
  const xs=[...mX,...mX.slice(0,-1).reverse().map(v=>-v)];
  series.forEach(s=>data.push(Object.assign({type:'scatter',mode:'lines',x:xs,y:[...s[0],...s[0].slice(0,-1).reverse()],line:{color:s[1],width:1.4},hoverinfo:'skip'},a)));
  data.push(Object.assign({type:'scatter',mode:'lines',x:[-3262,3282],y:[thr,thr],line:{color:'#111',width:1.2,dash:'dot'},hoverinfo:'skip'},a));
}
const C1='#4a5085',C2='#e3202b',C3='#70cdf2';
T(478.4,1361,'SMARCE1');T(796,1362,'SMARCB1');
T(312,1469,'value',{textangle:-90});T(630,1470.7,'value',{textangle:-90});
facet([338.4,471,1372,1388.3,1569],[.55,54.45],[10,20,30,40,50],true,[[mE1ShA,C3],[mE1AsynA,C1],[mE1MitA,C2]],10.7,'asynchronous cells');
facet([474.7,608.2,1372,1388.3,1569],[.55,54.45],[10,20,30,40,50],false,[[mE1ShM,C3],[mE1MitM,C2],[mE1AsynM,C1]],10.7,'mitotic cells');
facet([655.9,789,1374,1390.3,1570],[.75,46.94],[10,20,30,40],true,[[mB1ShA,C3],[mB1AsynA,C1],[mB1MitA,C2]],10.3,'asynchronous cells');
facet([792.7,926,1374,1390.3,1570],[.75,46.94],[10,20,30,40],false,[[mB1ShM,C3],[mB1MitM,C2],[mB1AsynM,C1]],10.3,'mitotic cells');
T(334.7,1603,'peaks:',{xanchor:'left'});
seg(377.6,1603,388,1603,C1,1.5);T(390,1603,'asyn-specific',{xanchor:'left'});
seg(477.6,1603,487,1603,C2,1.5);T(489,1603,'mit-specific',{xanchor:'left'});
seg(563,1603,573.5,1603,C3,1.5);T(575.5,1602,'asyn-and-mit shared',{xanchor:'left'});
seg(743,1603,765,1603,'#222',1.2,'dot');T(769.4,1603,'threshold',{xanchor:'left'});

// ---------- PIES (n, o) ----------
const PIEC=['#619cff','#00ba38','#f8766d'];
function pie(x0,x1,y0,y1,vals){
  data.push({type:'pie',values:vals,labels:pieLabels,sort:false,direction:'clockwise',rotation:0,textinfo:'none',hoverinfo:'skip',
   marker:{colors:PIEC,line:{color:'#111',width:1.4}},domain:{x:[x0/W,x1/W],y:[1-y1/H,1-y0/H]}});
}
letter(313,1628,'n');
TL([[450.4,1640,'SMARCE1 peaks distributions'],[450.4,1656,'DSG+FA ChIP-seq'],[724.3,1641,'SMARCB1 peaks distributions'],[724.3,1657,'DSG+FA ChIP-seq'],
 [393.5,1677.7,'asyn'],[510.5,1677.7,'mit'],[671,1681.7,'asyn'],[787.6,1681.7,'mit'],
 [367.4,1719,'2896'],[411,1731,'1174'],[388.4,1766.7,'10588'],[495,1709,'7'],[471,1722.7,'3'],[513.7,1767.3,'41'],
 [648,1710,'3909'],[688.8,1720,'5192'],[671,1768,'16619'],[773.8,1704.3,'182'],[756,1729.3,'222'],[794.3,1768,'1292']]);
pie(331.9,440.6,1689.3,1797.3,nE1Asyn);pie(454.4,563,1689.3,1797.3,nE1Mit);
pie(611.7,720,1690,1798,nB1Asyn);pie(733.5,841,1690,1798,nB1Mit);
rect(854.4,1756,867.4,1768,PIEC[2]);rect(854.4,1771.7,867.4,1784,PIEC[1]);rect(854.4,1787,867.4,1799,PIEC[0]);
TL([[871.4,1761,'enhancer'],[871.4,1776.7,'others'],[871.4,1791.7,'promoter']],{xanchor:'left'});

letter(959,1085,'o');
TL([[1079.3,1096,'ESRRB peaks distributions'],[1079.3,1111.7,'DSG+FA ChIP-seq'],[1286.7,1097,'ESRRB peaks distributions'],[1286.7,1112.7,'(PMID: 30655337)'],
 [1006.7,1133,'asyn'],[1140.7,1133,'mit'],[1291.7,1132.7,'bookmarked'],
 [991,1165,'3067'],[979,1179.3,'(12.56%)'],[1029,1165,'3436'],[1038.3,1179.3,'(14.08%)'],[1014.3,1226.7,'17907'],
 [1127.7,1167.3,'297'],[1116.7,1184,'(7.72%)'],[1158.7,1167.3,'922'],[1167.3,1184,'(23.95%)'],[1133.3,1222.7,'2630'],
 [1274.3,1154.7,'784'],[1263.3,1167.3,'(7.73%)'],[1310,1166,'2014'],[1320,1179.3,'(19.85%)'],[1282.7,1223.3,'7346'],
 [1065.3,1310.7,'ESRRB peaks distributions'],[1065.3,1326.7,'Cut&Run'],[1289.7,1313.3,'CTCF peaks distributions'],[1289.7,1329.3,'(PMID: 31599722)'],
 [1012.3,1345.3,'asyn'],[1141,1345.3,'mit'],[1300,1348.7,'bookmarked'],
 [991,1374,'3118'],[979,1388.3,'(10.53%)'],[1029,1374,'7177'],[1038.3,1388.3,'(24.24%)'],[1006,1436,'19317'],
 [1121,1374,'1049'],[1112.7,1388.3,'(9.38%)'],[1162,1388.3,'3811'],[1173.3,1408.3,'(34.08%)'],[1124.3,1430,'6323'],
 [1278,1377.3,'486'],[1267.3,1391.7,'(1.65%)'],[1310.7,1385,'2544'],[1320,1399.3,'(8.61%)'],[1296.7,1444.3,'26509']]);
pie(951.7,1062.3,1146,1256.3,oChipAsyn);pie(1085,1195,1146,1256.3,oChipMit);pie(1231,1341.7,1145,1255,oPmidEs);
pie(953.3,1064,1357.3,1467.7,oCutAsyn);pie(1081.3,1192.3,1357.3,1467.7,oCutMit);pie(1237.3,1352,1360.7,1475.3,oPmidCtcf);
rect(1039.3,1491,1051.3,1503.3,PIEC[2]);rect(1127.7,1491,1139.7,1503.3,PIEC[1]);rect(1196.3,1491,1208.3,1503.3,PIEC[0]);
TL([[1056,1496.7,'enhancer'],[1145,1496.7,'others'],[1213.3,1496.7,'promoter']],{xanchor:'left'});

Plotly.newPlot('chart',data,layout,{staticPlot:true,displayModeBar:false,responsive:false}).then(()=>{
  // logo letters stay real text; only their glyph width is fitted to the logo column
  logoGlyphs.forEach(g=>{const t=document.querySelector('.annotation[data-index="'+g.i+'"] text');
    if(t){t.setAttribute('textLength',g.w.toFixed(1));t.setAttribute('lengthAdjust','spacingAndGlyphs');}});
});
</script></body></html>
